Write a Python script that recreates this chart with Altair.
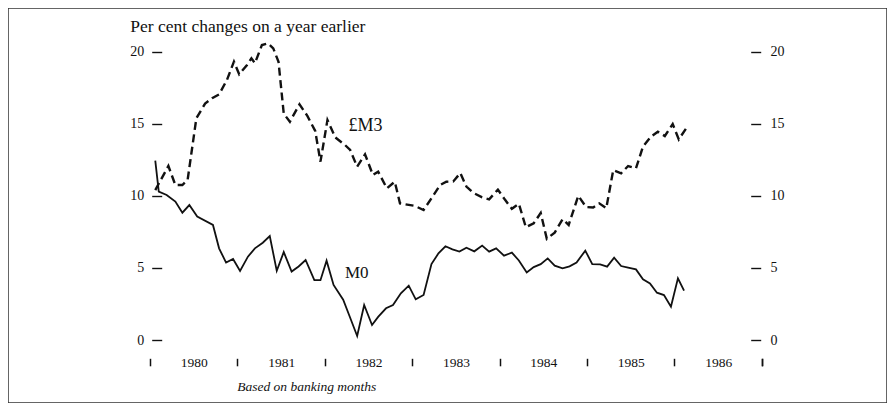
import altair as alt
import pandas as pd

# ---- data (decimal years, per cent) ----
m0_year = [1980.06, 1980.10, 1980.19, 1980.29, 1980.37, 1980.45, 1980.54, 1980.72,
           1980.79, 1980.87, 1980.95, 1981.03, 1981.12, 1981.20, 1981.29, 1981.37,
           1981.45, 1981.53, 1981.62, 1981.70, 1981.78, 1981.88, 1981.95, 1982.02,
           1982.10, 1982.21, 1982.28, 1982.37, 1982.45, 1982.54, 1982.61, 1982.70,
           1982.78, 1982.87, 1982.96, 1983.04, 1983.13, 1983.22, 1983.30, 1983.38,
           1983.46, 1983.54, 1983.62, 1983.71, 1983.80, 1983.88, 1983.96, 1984.05,
           1984.14, 1984.22, 1984.31, 1984.39, 1984.47, 1984.55, 1984.63, 1984.72,
           1984.80, 1984.88, 1984.98, 1985.06, 1985.15, 1985.23, 1985.31, 1985.39,
           1985.47, 1985.56, 1985.64, 1985.72, 1985.80, 1985.88, 1985.96, 1986.04,
           1986.11]
m0_value = [12.44, 10.29, 10.06, 9.60, 8.83, 9.36, 8.56, 7.98,
            6.36, 5.37, 5.62, 4.79, 5.78, 6.36, 6.75, 7.21,
            4.80, 6.10, 4.75, 5.10, 5.55, 4.15, 4.15, 5.50,
            3.82, 2.80, 1.70, 0.28, 2.43, 1.04, 1.60, 2.20,
            2.43, 3.24, 3.77, 2.82, 3.12, 5.27, 6.01, 6.50,
            6.29, 6.13, 6.40, 6.15, 6.55, 6.13, 6.36, 5.85,
            6.06, 5.52, 4.68, 5.06, 5.26, 5.66, 5.16, 4.97,
            5.11, 5.37, 6.20, 5.26, 5.25, 5.09, 5.71, 5.13,
            5.02, 4.90, 4.21, 3.93, 3.28, 3.12, 2.31, 4.28,
            3.42]

m3_year = [1980.06, 1980.21, 1980.29, 1980.37, 1980.43, 1980.53, 1980.63, 1980.71,
           1980.79, 1980.88, 1980.96, 1981.02, 1981.11, 1981.16, 1981.20, 1981.28,
           1981.35, 1981.41, 1981.47, 1981.51, 1981.53, 1981.60, 1981.71, 1981.80,
           1981.89, 1981.95, 1982.03, 1982.12, 1982.23, 1982.29, 1982.37, 1982.46,
           1982.55, 1982.61, 1982.71, 1982.80, 1982.86, 1983.03, 1983.13, 1983.22,
           1983.32, 1983.39, 1983.47, 1983.55, 1983.62, 1983.70, 1983.80, 1983.88,
           1983.98, 1984.06, 1984.14, 1984.22, 1984.30, 1984.39, 1984.47, 1984.54,
           1984.63, 1984.72, 1984.79, 1984.90, 1984.99, 1985.07, 1985.14, 1985.22,
           1985.30, 1985.39, 1985.47, 1985.56, 1985.64, 1985.73, 1985.81, 1985.89,
           1985.98, 1986.05, 1986.14]
m3_value = [10.40, 12.07, 10.75, 10.75, 11.10, 15.38, 16.40, 16.77,
            17.04, 18.04, 19.31, 18.43, 19.08, 19.54, 19.20, 20.46,
            20.58, 20.23, 19.30, 16.90, 15.70, 15.14, 16.35, 15.55,
            14.50, 12.37, 15.26, 14.05, 13.53, 13.18, 12.02, 12.88,
            11.45, 11.68, 10.52, 10.98, 9.48, 9.30, 9.02, 9.83,
            10.75, 10.98, 11.00, 11.58, 10.64, 10.20, 9.90, 9.76,
            10.43, 9.74, 9.10, 9.45, 7.82, 8.10, 8.81, 7.02,
            7.45, 8.38, 7.98, 10.00, 9.22, 9.19, 9.48, 9.14,
            11.79, 11.56, 12.07, 11.91, 13.41, 14.10, 14.45, 14.15,
            14.98, 13.92, 14.73]

label_text = ["\u00a3M3", "M0"]
label_year = [1982.27, 1982.23]
label_value = [14.85, 4.65]
label_size = [18, 17]

y_ticks = [0, 5, 10, 15, 20]
x_ticks = [1980, 1981, 1982, 1983, 1984, 1985, 1986, 1987, 1987.0001]

df0 = pd.DataFrame({"year": m0_year, "value": m0_value})
df3 = pd.DataFrame({"year": m3_year, "value": m3_value})
dfl = pd.DataFrame({"year": label_year, "value": label_value,
                    "label": label_text, "size": label_size})

FONT = "Liberation Serif"
INK = "#111111"

xscale = alt.Scale(domain=[1978.375, 1988.432], nice=False, zero=False)
yscale = alt.Scale(domain=[-4.37, 23.03], nice=False, zero=False)

xaxis = alt.Axis(
    values=x_ticks, offset=-44.7, tickSize=7.5, tickWidth=1.5, tickColor=INK,
    domain=False, grid=False, labelOffset=43.7, labelFlush=False, labelOverlap=False,
    labelBound=False,
    labelExpr="datum.value < 1986.5 ? '' + datum.value : ' '",
    labelFont=FONT, labelFontSize=13.5, labelColor=INK, labelBaseline="alphabetic",
    labelPadding=1,
    title="Based on banking months", titleFont=FONT, titleFontSize=13.5,
    titleFontStyle="italic", titleFontWeight="normal", titleColor=INK,
    titleX=228.7, titleY=31.7, titleAlign="left", titleBaseline="alphabetic",
)

left_axis = alt.Axis(
    orient="left", values=y_ticks, offset=-153.7, tickSize=10, tickWidth=1.4,
    tickColor=INK, domain=False, grid=False, labelPadding=8,
    labelFont=FONT, labelFontSize=14, labelColor=INK,
    title="Per cent changes on a year earlier", titleAngle=0, titleAlign="left",
    titleBaseline="alphabetic", titleX=-32, titleY=23, titleFont=FONT,
    titleFontSize=17.5, titleFontWeight="normal", titleColor=INK,
)

right_axis = alt.Axis(
    orient="right", values=y_ticks, offset=-136.3, tickSize=10, tickWidth=1.4,
    tickColor=INK, domain=False, grid=False, labelPadding=9.3,
    labelFont=FONT, labelFontSize=14, labelColor=INK, title=None,
)

m3 = alt.Chart(df3).mark_line(
    strokeDash=[8, 4.5], strokeWidth=2.4, color=INK, strokeCap="butt"
).encode(
    x=alt.X("year:Q", scale=xscale, axis=xaxis),
    y=alt.Y("value:Q", scale=yscale, axis=left_axis),
)

m0 = alt.Chart(df0).mark_line(strokeWidth=1.8, color=INK).encode(
    x=alt.X("year:Q", scale=xscale, axis=xaxis),
    y=alt.Y("value:Q", scale=yscale, axis=right_axis),
)

labels = alt.Chart(dfl).mark_text(
    align="left", baseline="middle", font=FONT, color=INK
).encode(
    x=alt.X("year:Q", scale=xscale, axis=xaxis),
    y=alt.Y("value:Q", scale=yscale, axis=None),
    text="label:N",
    size=alt.Size("size:Q", scale=None, legend=None),
)

chart = (
    alt.layer(m3, m0, labels)
    .resolve_axis(y="independent")
    .properties(width=879, height=395, padding=0,
                autosize=alt.AutoSizeParams(type="none"))
    .configure_view(stroke="#333333", strokeWidth=1.5)
)

chart.save("out.html", embed_options={"renderer": "svg", "actions": False})
